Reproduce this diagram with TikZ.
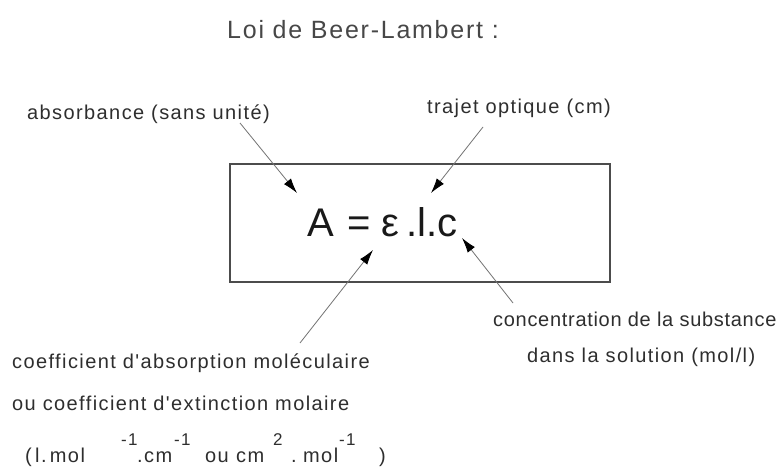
\documentclass[tikz,border=0pt]{standalone}
\usepackage{fontspec}
\setmainfont{Liberation Sans}
\newfontfamily\lblfont[LetterSpace=7]{Liberation Sans}
\newfontfamily\lblnarrow[LetterSpace=3.5]{Liberation Sans}
\usetikzlibrary{arrows.meta}
\begin{document}
\begin{tikzpicture}[x=1pt,y=-1pt,
  lbl/.style={inner sep=0pt, anchor=base west, text=black!82, font=\lblfont\fontsize{20}{24}\selectfont},
  sup/.style={lbl, font=\lblfont\fontsize{17}{20}\selectfont},
  ptr/.style={draw=black!55, line width=0.8pt, -{Latex[length=15pt,width=9pt,color=black]}},
  frame/.style={draw=black!70, line width=1.2pt}]
\useasboundingbox (0,0) rectangle (784,470);
\fill[white] (0,0) rectangle (784,470);
% title
\node[lbl, text=black!72, font=\lblfont\fontsize{25}{30}\selectfont] (title) at (227,39) {Loi de Beer-Lambert :};
% box and formula
\draw[frame] (230,164) rectangle (610,282);
\node[inner sep=0pt, anchor=base west, font=\fontsize{40}{48}\selectfont, text=black!90] (eq) at (307,237) {A\,\,= ε\,.l.c};
% labels
\node[lbl] (abs) at (27,120) {absorbance (sans unité)};
\node[lbl] (traj) at (427,114) {trajet optique (cm)};
\node[lbl, font=\lblnarrow\fontsize{20}{24}\selectfont] (conc1) at (493,326) {concentration de la substance};
\node[lbl] (conc2) at (527,362) {dans la solution (mol/l)};
\node[lbl] (coef1) at (12,368) {coefficient d'absorption moléculaire};
\node[lbl] (coef2) at (12,410) {ou coefficient d'extinction molaire};
\node[lbl] (u1) at (25,462) {(\,l.\,mol};
\node[sup] (u2) at (121,445) {-1};
\node[lbl] (u3) at (137,462) {.cm};
\node[sup] (u4) at (174,445) {-1};
\node[lbl] (u5) at (205,462) {ou};
\node[lbl] (u6) at (236,462) {cm};
\node[sup] (u7) at (273,445) {2};
\node[lbl] (u8) at (291,462) {.};
\node[lbl] (u9) at (303,462) {mol};
\node[sup] (u10) at (339,445) {-1};
\node[lbl] (u11) at (379,462) {)};
% arrow endpoints
\coordinate (absS) at (240,123);
\coordinate (absT) at (297,193);
\coordinate (trajS) at (483,127);
\coordinate (trajT) at (431,193);
\coordinate (coefS) at (300,343);
\coordinate (coefT) at (373,250);
\coordinate (concS) at (513,303);
\coordinate (concT) at (462,238);
\draw[ptr] (absS) -- (absT);
\draw[ptr] (trajS) -- (trajT);
\draw[ptr] (coefS) -- (coefT);
\draw[ptr] (concS) -- (concT);
\end{tikzpicture}
\end{document}
